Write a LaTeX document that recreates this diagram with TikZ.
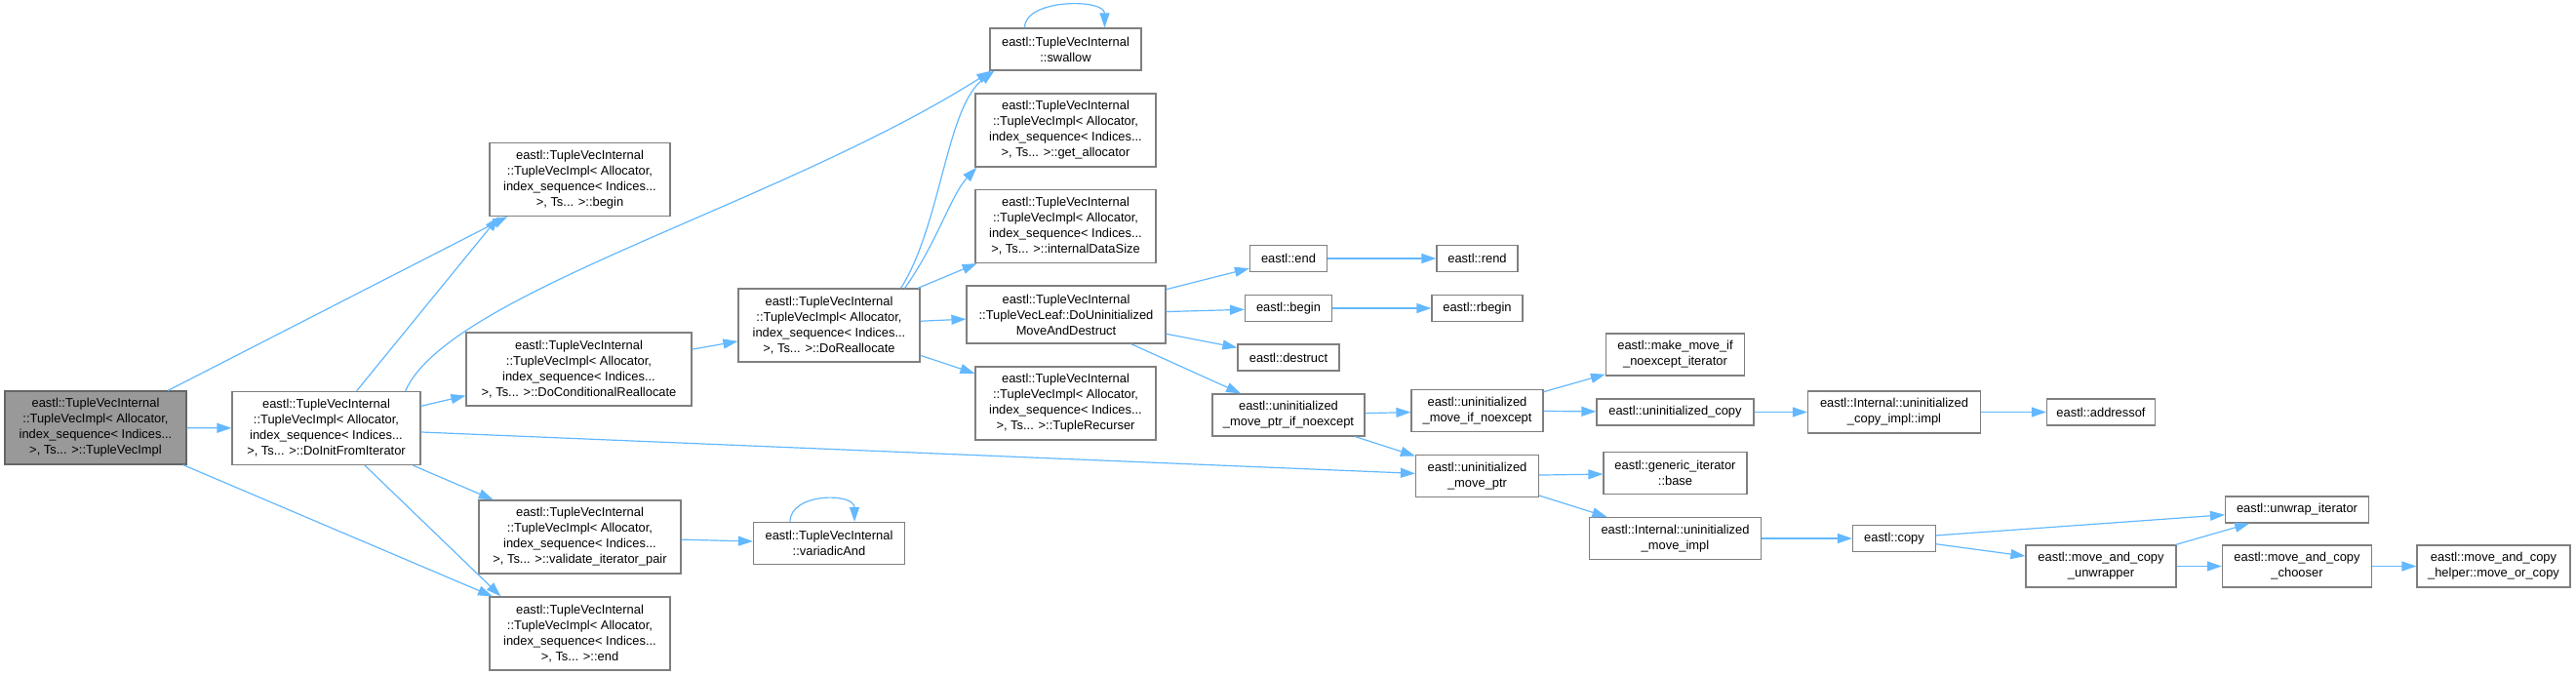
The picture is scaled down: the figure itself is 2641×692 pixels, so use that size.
\documentclass[tikz,border=0pt]{standalone}
\usepackage{fontspec}
\setmainfont{Liberation Sans}
\usepackage{tikz}
\usetikzlibrary{arrows.meta}
\definecolor{fleche}{HTML}{63B8FF}
\definecolor{bord}{HTML}{7F7F7F}
\definecolor{fond}{HTML}{999999}
\newcommand{\tvimpl}{eastl::TupleVecInternal\\::TupleVecImpl< Allocator,\\index\_sequence< Indices...\\>, Ts... >::}

\begin{document}
\begin{tikzpicture}[x=1pt, y=-1pt,
	fn/.style={draw=bord, line width=1.2pt, fill=white, align=center, inner xsep=3pt, inner ysep=2pt, font=\fontsize{12.9}{16}\selectfont},
	impl/.style={fn, minimum width=185pt, minimum height=75pt},
	un/.style={fn, minimum height=27pt},
	deux/.style={fn, minimum height=43pt},
	appel/.style={draw=fleche, line width=1.2pt, -{Triangle[length=15pt,width=10pt]}}]
				\useasboundingbox (0,0) rectangle (2641,692);
				% noeuds de gauche
				\node[impl, minimum width=186pt, fill=fond, draw=black!60] (root) at (98,438.5) {\tvimpl TupleVecImpl};
				\node[impl, minimum width=193pt] (init) at (334.5,439) {\tvimpl DoInitFromIterator};
				\node[impl] (tbegin) at (594.5,184) {\tvimpl begin};
				\node[impl, minimum width=231pt] (condre) at (593.5,378.5) {\tvimpl DoConditionalReallocate};
				\node[impl, minimum width=207pt] (valid) at (594.5,550.5) {\tvimpl validate\_iterator\_pair};
				\node[impl] (tend) at (594.5,649.5) {\tvimpl end};
				\node[impl, minimum width=186pt] (realloc) at (850,333.5) {\tvimpl DoReallocate};
				\node[deux, minimum width=155pt] (variadic) at (850,557) {eastl::TupleVecInternal\\::variadicAnd};
				\node[deux, minimum width=155pt] (swallow) at (1092.5,50.5) {eastl::TupleVecInternal\\::swallow};
				\node[impl] (getalloc) at (1092.5,133.5) {\tvimpl get\_allocator};
				\node[impl] (datasize) at (1092.5,232) {\tvimpl internalDataSize};
				\node[fn, minimum width=204pt, minimum height=59pt] (mad) at (1093,322.5) {eastl::TupleVecInternal\\::TupleVecLeaf::DoUninitialized\\MoveAndDestruct};
				\node[impl] (recurser) at (1092.5,413.5) {\tvimpl TupleRecurser};
				% noeuds de droite
				\node[un, minimum width=79pt] (eend) at (1321,265) {eastl::end};
				\node[un, minimum width=89pt] (ebegin) at (1321,316) {eastl::begin};
				\node[un, minimum width=104pt] (destruct) at (1321,366.5) {eastl::destruct};
				\node[deux, minimum width=156pt] (umpin) at (1321,425.5) {eastl::uninitialized\\\_move\_ptr\_if\_noexcept};
				\node[un, minimum width=83pt] (erend) at (1514.5,265) {eastl::rend};
				\node[un, minimum width=93pt] (erbegin) at (1514.5,316) {eastl::rbegin};
				\node[deux, minimum width=135pt] (umin) at (1514.5,421) {eastl::uninitialized\\\_move\_if\_noexcept};
				\node[deux, minimum width=126pt] (ump) at (1514.5,488) {eastl::uninitialized\\\_move\_ptr};
				\node[deux, minimum width=142pt] (mmi) at (1717.5,363.5) {eastl::make\_move\_if\\\_noexcept\_iterator};
				\node[un, minimum width=161pt] (ucopy) at (1717.5,422.5) {eastl::uninitialized\_copy};
				\node[deux, minimum width=147pt] (gib) at (1717.5,485) {eastl::generic\_iterator\\::base};
				\node[deux, minimum width=176pt] (umi) at (1717.5,552) {eastl::Internal::uninitialized\\\_move\_impl};
				\node[deux, minimum width=177pt] (uci) at (1942,422.5) {eastl::Internal::uninitialized\\\_copy\_impl::impl};
				\node[un, minimum width=85pt] (copy) at (1942,552) {eastl::copy};
				\node[un, minimum width=111pt] (addressof) at (2154,422.5) {eastl::addressof};
				\node[deux, minimum width=154pt] (mcu) at (2154,580.5) {eastl::move\_and\_copy\\\_unwrapper};
				\node[un, minimum width=147pt] (unwrap) at (2355,522.5) {eastl::unwrap\_iterator};
				\node[deux, minimum width=153pt] (chooser) at (2355,580.5) {eastl::move\_and\_copy\\\_chooser};
				\node[deux, minimum width=157pt] (helper) at (2556.5,580.5) {eastl::move\_and\_copy\\\_helper::move\_or\_copy};
				% appels
				\draw[appel] (root) -- (init);
				\draw[appel] (root) -- (tbegin);
				\draw[appel] (root) -- (tend);
				\draw[appel] (init) -- ([xshift=10pt]tbegin.south west);
				\draw[appel] ([xshift=-16pt]init.north east) .. controls (460,300) and (800,210) .. ([xshift=2pt]swallow.south west);
				\draw[appel] (init) -- (condre);
				\draw[appel] (init) -- (ump);
				\draw[appel] (init) -- (valid);
				\draw[appel] (init) -- ([xshift=12pt]tend.north west);
				\draw[appel] (condre) -- (realloc);
				\draw[appel] ([xshift=-20pt]realloc.north east) .. controls (965,230) and (970,110) .. ([xshift=5pt]swallow.south west);
				\draw[appel] ([xshift=-16pt]realloc.north east) .. controls (960,250) and (975,200) .. ([xshift=2pt]getalloc.south west);
				\draw[appel] (realloc) -- (datasize);
				\draw[appel] (realloc) -- (mad);
				\draw[appel] (realloc) -- (recurser);
				\draw[appel] (valid) -- (variadic);
				% boucles
				\draw[appel] ([xshift=-42pt]swallow.north) .. controls +(0,-30) and +(0,-30) .. ([xshift=40pt]swallow.north);
				\draw[appel] ([xshift=-40pt]variadic.north) .. controls +(0,-30) and +(0,-30) .. ([xshift=26pt]variadic.north);
				\draw[appel] (mad) -- (eend);
				\draw[appel] (mad) -- (ebegin);
				\draw[appel] (mad) -- (destruct);
				\draw[appel] (mad) -- (umpin);
				\draw[appel] (eend) -- (erend);
				\draw[appel] (ebegin) -- (erbegin);
				\draw[appel] (umpin) -- (umin);
				\draw[appel] (umpin) -- (ump);
				\draw[appel] (umin) -- (mmi);
				\draw[appel] (umin) -- (ucopy);
				\draw[appel] (ucopy) -- (uci);
				\draw[appel] (uci) -- (addressof);
				\draw[appel] (ump) -- (gib);
				\draw[appel] (ump) -- (umi);
				\draw[appel] (umi) -- (copy);
				\draw[appel] (copy) -- (unwrap);
				\draw[appel] (copy) -- (mcu);
				\draw[appel] (mcu) -- (unwrap);
				\draw[appel] (mcu) -- (chooser);
				\draw[appel] (chooser) -- (helper);
			\end{tikzpicture}
\end{document}
